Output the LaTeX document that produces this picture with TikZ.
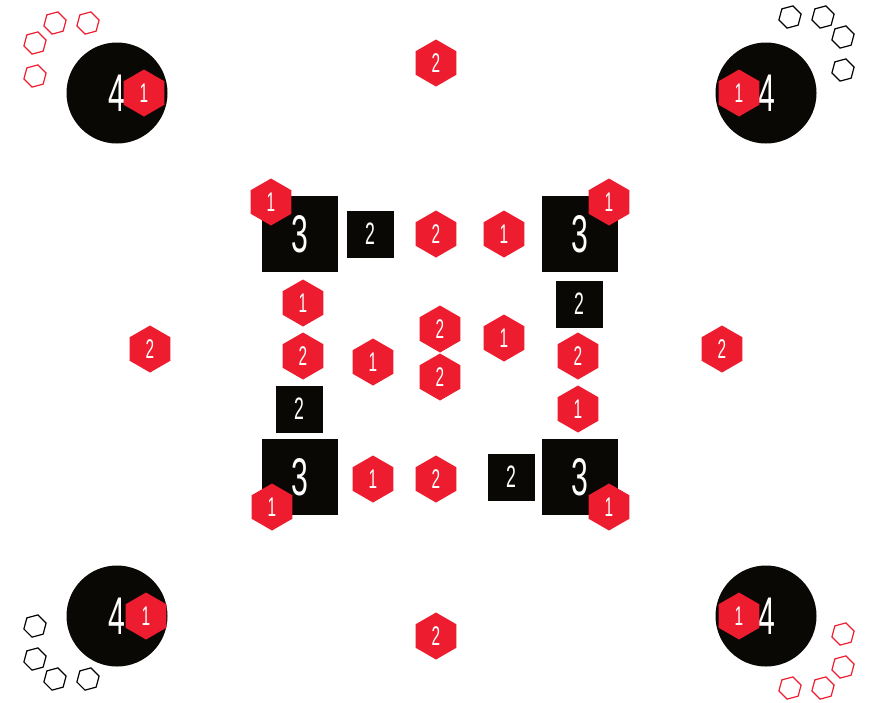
\documentclass[tikz,border=0pt]{standalone}
\usepackage{fontspec}
\usepackage{graphicx}
\setmainfont{Liberation Sans}
\usetikzlibrary{shapes.geometric}
\definecolor{hred}{HTML}{ED1C2E}
\definecolor{hblk}{HTML}{0A0804}
\newcommand{\cdig}[1]{\scalebox{0.57}[1]{#1}}
\begin{document}
\begin{tikzpicture}[x=1pt,y=-1pt,
  hexr/.style={regular polygon, regular polygon sides=6, shape border rotate=30,
    minimum size=47pt, inner sep=0pt, fill=hred, text=white,
    font=\fontsize{27}{27}\selectfont},
  hexo/.style={regular polygon, regular polygon sides=6, shape border rotate=15,
    minimum size=23pt, inner sep=0pt, draw=#1, line width=1.2pt},
  bigsq/.style={rectangle, minimum size=76pt, inner sep=0pt, fill=hblk, text=white,
    font=\fontsize{53}{53}\selectfont},
  smallsq/.style={rectangle, minimum size=47pt, inner sep=0pt, fill=hblk, text=white,
    font=\fontsize{31}{31}\selectfont},
  bigcirc/.style={circle, minimum size=101pt, inner sep=0pt, fill=hblk},
  four/.style={text=white, inner sep=0pt, font=\fontsize{53}{53}\selectfont}
]
\useasboundingbox (0,0) rectangle (874,702);
% corner circles
\node[bigcirc] (c1) at (117,93) {};
\node[four] (f1) at (117,93) {\cdig{4}};
\node[hexr] (h1) at (144,93) {\cdig{1}};
\node[bigcirc] (c2) at (766,93) {};
\node[four] (f2) at (767,93) {\cdig{4}};
\node[hexr] (h2) at (739,93) {\cdig{1}};
\node[bigcirc] (c3) at (117,616) {};
\node[four] (f3) at (117,616) {\cdig{4}};
\node[hexr] (h3) at (146,616) {\cdig{1}};
\node[bigcirc] (c4) at (766,616) {};
\node[four] (f4) at (767,616) {\cdig{4}};
\node[hexr] (h4) at (739,616) {\cdig{1}};
% outline hexagons
\node[hexo=hred] (o1) at (55,23) {};
\node[hexo=hred] (o2) at (88,23) {};
\node[hexo=hred] (o3) at (35,43) {};
\node[hexo=hred] (o4) at (35,76) {};
\node[hexo=black] (o5) at (790,17) {};
\node[hexo=black] (o6) at (823,17) {};
\node[hexo=black] (o7) at (843,37) {};
\node[hexo=black] (o8) at (843,70) {};
\node[hexo=hred] (o9) at (843,634) {};
\node[hexo=hred] (o10) at (843,667) {};
\node[hexo=hred] (o11) at (823,688) {};
\node[hexo=hred] (o12) at (790,688) {};
\node[hexo=black] (o13) at (35,626) {};
\node[hexo=black] (o14) at (35,659) {};
\node[hexo=black] (o15) at (55,679) {};
\node[hexo=black] (o16) at (88,679) {};
% big squares
\node[bigsq] (s1) at (300,234) {\cdig{3}};
\node[bigsq] (s2) at (580,234) {\cdig{3}};
\node[bigsq] (s3) at (300,477) {\cdig{3}};
\node[bigsq] (s4) at (580,477) {\cdig{3}};
\node[hexr] (k1) at (271,202) {\cdig{1}};
\node[hexr] (k2) at (609,202) {\cdig{1}};
\node[hexr] (k3) at (272,507) {\cdig{1}};
\node[hexr] (k4) at (609,507) {\cdig{1}};
% small squares
\node[smallsq] (q1) at (370,234) {\cdig{2}};
\node[smallsq] (q2) at (579,304) {\cdig{2}};
\node[smallsq] (q3) at (299,409) {\cdig{2}};
\node[smallsq] (q4) at (511,477) {\cdig{2}};
% red hexagons
\node[hexr] (r1) at (436,63) {\cdig{2}};
\node[hexr] (r2) at (436,636) {\cdig{2}};
\node[hexr] (r3) at (150,349) {\cdig{2}};
\node[hexr] (r4) at (722,349) {\cdig{2}};
\node[hexr] (r5) at (436,234) {\cdig{2}};
\node[hexr] (r6) at (504,234) {\cdig{1}};
\node[hexr] (r7) at (303,303) {\cdig{1}};
\node[hexr] (r8) at (303,356) {\cdig{2}};
\node[hexr] (r9) at (440,329) {\cdig{2}};
\node[hexr] (r10) at (440,377) {\cdig{2}};
\node[hexr] (r11) at (504,338) {\cdig{1}};
\node[hexr] (r12) at (373,362) {\cdig{1}};
\node[hexr] (r13) at (578,356) {\cdig{2}};
\node[hexr] (r14) at (578,409) {\cdig{1}};
\node[hexr] (r15) at (373,479) {\cdig{1}};
\node[hexr] (r16) at (436,479) {\cdig{2}};
\end{tikzpicture}
\end{document}
